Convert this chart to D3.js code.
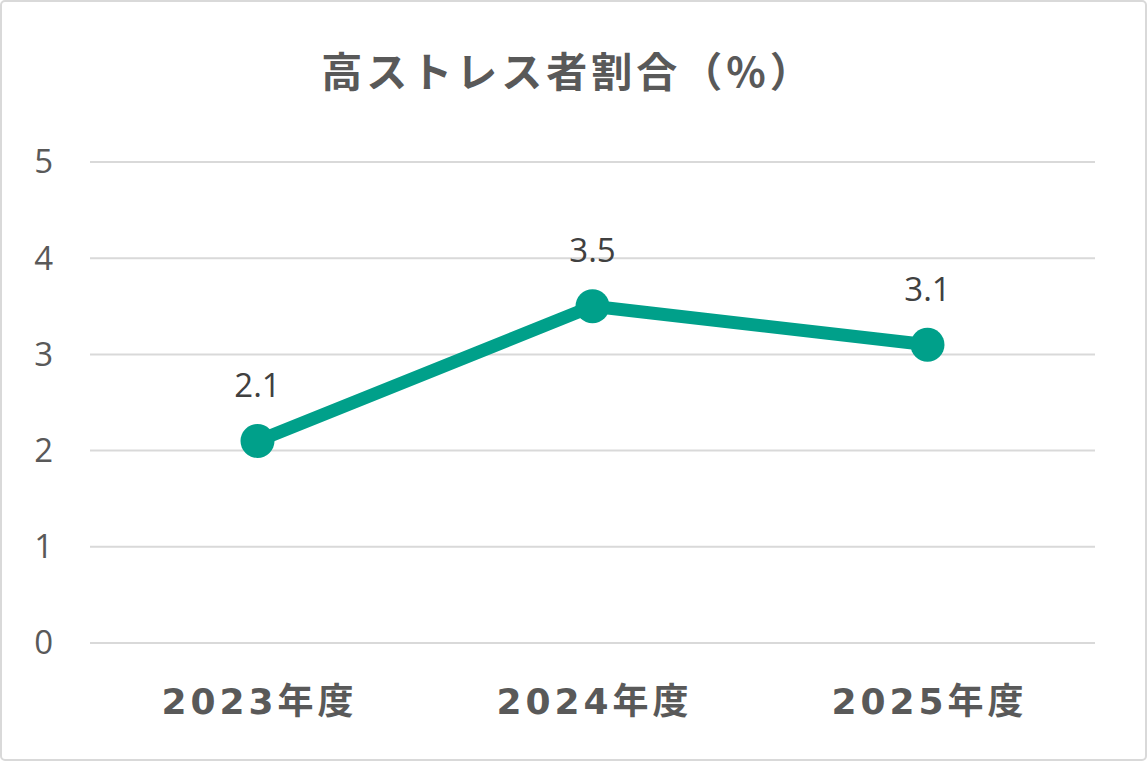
<!DOCTYPE html>
<html><head><meta charset="utf-8">
<script src="https://cdn.jsdelivr.net/npm/d3@7"></script>
<style>html,body{margin:0;padding:0;background:#fff;overflow:hidden}</style>
</head><body>
<script>
const categories = ["2023年度", "2024年度", "2025年度"];
const values = [2.1, 3.5, 3.1];
const yTicks = [0, 1, 2, 3, 4, 5];
const title = "高ストレス者割合（%）";

const W = 1147, H = 761;
const svg = d3.select("body").append("svg").attr("width", W).attr("height", H);
svg.append("rect").attr("x", 1).attr("y", 1).attr("width", W - 2).attr("height", H - 2)
  .attr("rx", 4).attr("fill", "#fff").attr("stroke", "#d9d9d9").attr("stroke-width", 2);

const x = d3.scaleBand().domain(categories).range([90, 1095]);
const y = d3.scaleLinear().domain([0, 5]).range([643, 162]);

svg.append("text").attr("x", 568).attr("y", 87).attr("text-anchor", "middle")
  .attr("font-family", "'Noto Sans CJK JP'").attr("font-weight", "bold")
  .attr("font-size", 41).attr("fill", "#595959").attr("letter-spacing", 4).text(title);

const grid = svg.append("g");
grid.selectAll("line").data(yTicks).join("line")
  .attr("x1", 90).attr("x2", 1095).attr("y1", d => y(d)).attr("y2", d => y(d))
  .attr("stroke", "#d9d9d9").attr("stroke-width", 2);

const yAxis = svg.append("g").attr("transform", "translate(53,0)")
  .call(d3.axisLeft(y).tickValues(yTicks).tickFormat(d3.format("d")).tickSize(0).tickPadding(0));
yAxis.select(".domain").remove();
yAxis.selectAll("text").attr("font-family", "'Open Sans', 'Noto Sans'").attr("font-size", 33)
  .attr("fill", "#595959").attr("dy", "0.33em");

const xAxis = svg.append("g").attr("transform", "translate(0,643)")
  .call(d3.axisBottom(x).tickSize(0).tickPadding(0));
xAxis.select(".domain").remove();
xAxis.selectAll("text").attr("y", 71).attr("dy", 0).attr("dx", 2)
  .attr("font-family", "'DejaVu Sans', 'Noto Sans CJK JP'")
  .attr("font-weight", "bold").attr("font-size", 36).attr("fill", "#595959").attr("letter-spacing", 4);

const cx = (d, i) => x(categories[i]) + x.bandwidth() / 2;
const line = d3.line().x(cx).y(d => y(d));
svg.append("path").datum(values).attr("d", line).attr("fill", "none")
  .attr("stroke", "#00A08A").attr("stroke-width", 13).attr("stroke-linejoin", "round");
svg.selectAll("circle.pt").data(values).join("circle").attr("class", "pt")
  .attr("cx", cx).attr("cy", d => y(d)).attr("r", 17).attr("fill", "#00A08A");
svg.selectAll("text.lbl").data(values).join("text").attr("class", "lbl")
  .attr("x", cx).attr("y", d => y(d) - 44).attr("text-anchor", "middle")
  .attr("font-family", "'Open Sans', 'Noto Sans'").attr("font-size", 33).attr("fill", "#404040")
  .text(d => d.toFixed(1));
</script>
</body></html>
